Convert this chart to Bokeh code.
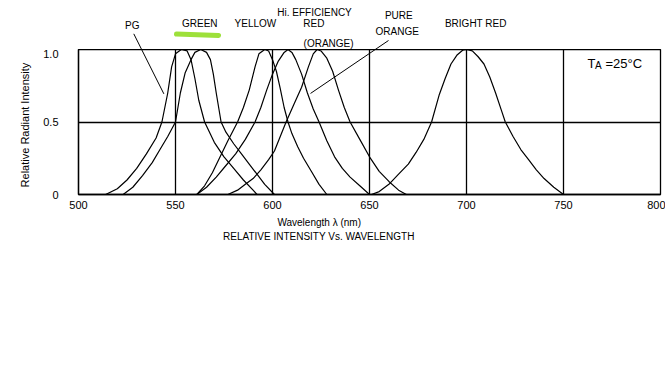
from bokeh.plotting import figure
from bokeh.layouts import column
from bokeh.models import Range1d, FixedTicker, Label
from bokeh.embed import file_html
from bokeh.resources import INLINE

# ---- data (wavelength nm, relative intensity) ----
pg_x = [514, 520, 525, 530, 535, 540, 543, 546, 548, 550, 553, 556, 558, 560, 562, 565, 570, 575, 580, 585, 590, 592]
pg_y = [0, 0.04, 0.1, 0.18, 0.28, 0.39, 0.5, 0.7, 0.88, 0.97, 1.0, 0.99, 0.93, 0.8, 0.65, 0.5, 0.36, 0.26, 0.18, 0.1, 0.03, 0]

green_x = [523, 528, 533, 538, 542, 546, 550, 552.5, 555, 558, 560, 563, 566, 568, 569.5, 571, 573.5, 576, 580, 584, 588, 592, 596, 601]
green_y = [0, 0.05, 0.13, 0.22, 0.31, 0.4, 0.5, 0.7, 0.84, 0.93, 0.98, 1.0, 0.98, 0.93, 0.83, 0.7, 0.5, 0.43, 0.35, 0.28, 0.21, 0.14, 0.07, 0]

yellow_x = [561, 565, 569, 573, 577, 582, 585, 588, 591, 593, 596, 598, 600, 602, 604, 606, 608, 610, 613, 616, 620, 624, 628]
yellow_y = [0, 0.06, 0.15, 0.26, 0.37, 0.5, 0.6, 0.72, 0.88, 0.97, 1.0, 0.99, 0.93, 0.85, 0.73, 0.6, 0.5, 0.42, 0.33, 0.25, 0.16, 0.07, 0]

orange_x = [561, 566, 571, 576, 581, 586, 591, 594, 597, 600, 603, 606, 608, 610, 612, 615, 618, 621, 624, 628, 632, 636, 640, 645, 650]
orange_y = [0, 0.05, 0.12, 0.2, 0.28, 0.38, 0.5, 0.6, 0.72, 0.83, 0.92, 0.98, 1.0, 0.98, 0.93, 0.83, 0.7, 0.59, 0.5, 0.37, 0.26, 0.18, 0.12, 0.06, 0]

hired_x = [577, 582, 586, 590, 594, 598, 601, 604, 607, 611, 615, 618.5, 621, 623, 625, 628, 631, 634, 637, 640, 645, 650, 655, 660, 665, 669]
hired_y = [0, 0.03, 0.07, 0.11, 0.17, 0.24, 0.3, 0.4, 0.5, 0.62, 0.74, 0.88, 0.97, 1.0, 0.99, 0.94, 0.85, 0.72, 0.6, 0.5, 0.38, 0.26, 0.16, 0.09, 0.03, 0]

bred_x = [651, 655, 660, 665, 670, 674, 678, 682, 686, 689, 692, 695, 698, 700, 703, 706, 709, 712, 715, 718, 720, 724, 728, 732, 736, 740, 745, 750]
bred_y = [0, 0.02, 0.07, 0.14, 0.21, 0.29, 0.38, 0.5, 0.69, 0.8, 0.9, 0.96, 0.995, 1.0, 0.99, 0.95, 0.9, 0.81, 0.7, 0.58, 0.5, 0.4, 0.31, 0.24, 0.17, 0.11, 0.05, 0]

x_ticks = [500, 550, 600, 650, 700, 750, 800]
y_ticks = [0, 0.5, 1.0]
y_tick_labels = {0: "0", 0.5: "0.5", 1: "1.0"}

FONT = "Liberation Sans"
X0, X1 = 500, 800
FW, FH = 582, 145          # main frame size in px
LEFT, RIGHT = 78, 5
TOP_H = 49                 # strip above the frame for the curve names
GAP = 22                   # below-frame border holding the tick labels
BOT_H = 40                 # strip below for the axis caption
PX = 1.0 / FH              # one pixel in intensity units

def strip(y0, y1, h):
    f = figure(frame_width=FW, frame_height=h, x_range=Range1d(X0, X1), y_range=Range1d(y0, y1),
               x_axis_type=None, y_axis_type=None, output_backend="svg", toolbar_location=None,
               min_border_left=LEFT, min_border_right=RIGHT, min_border_top=0, min_border_bottom=0)
    f.outline_line_color = None
    f.background_fill_color = "white"
    f.border_fill_color = "white"
    return f

top = strip(1.0, 1.0 + TOP_H * PX, TOP_H)

p = figure(frame_width=FW, frame_height=FH,
           x_range=top.x_range, y_range=Range1d(0, 1),
           output_backend="svg", toolbar_location=None,
           min_border_left=LEFT, min_border_right=RIGHT, min_border_top=0, min_border_bottom=GAP)
p.background_fill_color = "white"
p.border_fill_color = "white"
p.outline_line_color = "black"
p.outline_line_width = 1.3
p.outline_line_alpha = 1

bot = strip(-(GAP + BOT_H) * PX, -GAP * PX, BOT_H)
bot.x_range = top.x_range

p.xaxis.ticker = FixedTicker(ticks=x_ticks)
p.yaxis.ticker = FixedTicker(ticks=y_ticks)
p.yaxis.major_label_overrides = y_tick_labels
for ax in (p.xaxis[0], p.yaxis[0]):
    ax.major_tick_line_color = None
    ax.minor_tick_line_color = None
    ax.axis_line_color = "black"
    ax.axis_line_width = 1.3
    ax.major_label_text_font = FONT
    ax.major_label_text_font_size = "11px"
    ax.major_label_text_color = "black"
p.xaxis.major_label_standoff = 0
p.yaxis.major_label_standoff = 14
p.yaxis.axis_label = "Relative  Radiant  Intensity"
p.yaxis.axis_label_text_font = FONT
p.yaxis.axis_label_text_font_style = "normal"
p.yaxis.axis_label_text_font_size = "11px"
p.yaxis.axis_label_text_color = "black"
p.yaxis.axis_label_standoff = 9

p.xgrid.ticker = FixedTicker(ticks=[550, 600, 650, 700, 750])
p.ygrid.ticker = FixedTicker(ticks=[0.5])
for g in (p.xgrid[0], p.ygrid[0]):
    g.grid_line_color = "black"
    g.grid_line_width = 1.3
    g.grid_line_alpha = 1

for xs, ys in [(pg_x, pg_y), (green_x, green_y), (yellow_x, yellow_y),
               (orange_x, orange_y), (hired_x, hired_y), (bred_x, bred_y)]:
    p.line(xs, ys, line_color="black", line_width=1.2)

# green highlighter stroke under "GREEN"
top.line([550.5, 572.2], [1.107, 1.097], line_color="#9de03a", line_width=5, line_cap="round")
# pointer lines (drawn in both strips so they run continuously across the frame edge)
pointers = [([528.5, 544.0], [1.108, 0.694]), ([659.8, 619.6], [1.062, 0.697])]
for f in (top, p):
    for xs, ys in pointers:
        f.line(xs, ys, line_color="black", line_width=1)

def lab(f, t, x, y, al="center", fs="10px"):
    f.add_layout(Label(x=x, y=y, text=t, text_align=al, text_baseline="middle",
                       text_font=FONT, text_font_size=fs, text_color="black"))

for t, x, y in [("PG", 527.7, 1.166), ("GREEN", 562.5, 1.181), ("YELLOW", 591.2, 1.181),
                ("Hi.  EFFICIENCY", 622.4, 1.255), ("RED", 621.3, 1.177), ("(ORANGE)", 628.9, 1.039),
                ("PURE", 665.1, 1.234), ("ORANGE", 664.3, 1.126), ("BRIGHT  RED", 705.5, 1.181)]:
    lab(top, t, x, y)

lab(p, "T", 762.4, 0.901, "left", "13px")
lab(p, "A", 766.2, 0.89, "left", "10px")
lab(p, "=25°C", 771.6, 0.901, "left", "13px")

lab(bot, "Wavelength   λ (nm)", 625.5, -0.196)
lab(bot, "RELATIVE  INTENSITY  Vs.  WAVELENGTH", 626.0, -0.293)

layout = column(top, p, bot, spacing=0)
open("out.html", "w").write(file_html(layout, INLINE))
